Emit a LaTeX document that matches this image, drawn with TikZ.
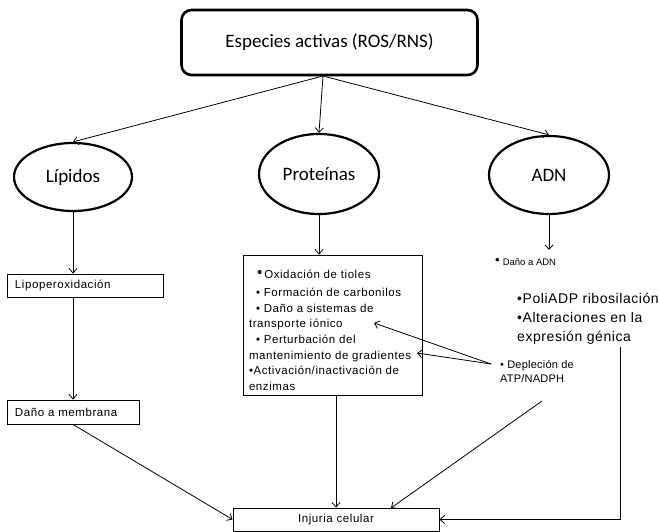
\documentclass[tikz,border=0pt]{standalone}
\usepackage{fontspec}
\setmainfont{Liberation Sans}
\newfontfamily\calib{Carlito}
\newfontfamily\arsp[LetterSpace=5]{Liberation Sans}
\newfontfamily\arspb[LetterSpace=4]{Liberation Sans}
\newfontfamily\arspc[LetterSpace=2]{Liberation Sans}
\usetikzlibrary{shapes.geometric,arrows.meta,calc}
\begin{document}
\begin{tikzpicture}[x=1pt,y=-1pt,
  arr/.style={draw, line width=0.8pt, -{Straight Barb[length=4.5pt,width=8pt]}},
  ell/.style={ellipse, draw, line width=2.2pt, inner sep=0pt, font=\calib\fontsize{19}{22}\selectfont},
  boxn/.style={draw, line width=0.9pt, inner sep=0pt, font=\arsp\fontsize{11.5}{14}\selectfont},
  free/.style={inner sep=0pt, align=left, anchor=north west}]
\useasboundingbox (0,0) rectangle (659,532);
% top
\node[draw, rounded corners=10pt, line width=2.6pt, minimum width=296pt, minimum height=65pt,
      font=\calib\fontsize{19}{22}\selectfont] (top) at (329.5,42.5) {Especies activas (ROS/RNS)};
% ellipses
\node[ell, minimum width=118pt, minimum height=68pt] (lip) at (73,177) {Lípidos};
\node[ell, minimum width=120pt, minimum height=80pt] (prot) at (319,174) {Proteínas};
\node[ell, minimum width=120pt, minimum height=78pt] (adn) at (549,175) {ADN};
% left column
\node[boxn, minimum height=23pt, inner xsep=8pt, text width=140pt, align=left] (lipo) at (85,285.5) {Lipoperoxidación};
\node[boxn, minimum height=24pt, inner xsep=8pt, text width=116pt, align=left] (dmem) at (73,412) {Daño a membrana};
% bottom
\node[boxn, minimum width=206pt, minimum height=23pt] (inj) at (336,519.5) {Injuria celular};
% protein box
\node[boxn, font=\arsp\fontsize{11.5}{15.6}\selectfont] (pbox) at (332.5,325) {\parbox[c][140pt][t]{179pt}{\raggedright\leftskip=6pt\relax
\rule{0pt}{23.5pt}\hspace*{8pt}{\fontsize{15}{15}\selectfont\raisebox{1pt}{•}}\hspace{2pt}Oxidación de tioles\\[2.5pt]
\hspace*{7pt}• Formación de carbonilos\\
\hspace*{7pt}• Daño a sistemas de\\
transporte iónico\\
\hspace*{7pt}• Perturbación del\\
mantenimiento de gradientes\\
•Activación/inactivación de\\
enzimas}};
% right texts
\node[free, anchor=west, font=\fontsize{9.5}{11}\selectfont] (dadn) at (495,262) {{\fontsize{13}{13}\selectfont\raisebox{1pt}{•}}\hspace{3pt}Daño a ADN};
\node[free, font=\arspb\fontsize{14}{19}\selectfont] (poli) at (517,292.5) {•PoliADP ribosilación\\•Alteraciones en la\\expresión génica};
\node[free, font=\arspc\fontsize{11}{14}\selectfont] (depl) at (500,360.5) {• Depleción de\\ATP/NADPH};
% coordinates
\coordinate (ts) at (323,76);
\coordinate (ad) at (549,250);
\coordinate (dp) at (491,364);
\coordinate (t1) at (374,323);
\coordinate (t2) at (417,353);
\coordinate (d3) at (542,401);
\coordinate (ie) at (391,508);
\coordinate (c1) at (620,347);
% connectors
\draw[arr] (ts) -- (lip.north);
\draw[arr] (ts) -- (prot.north);
\draw[arr] (ts) -- (adn.north);
\draw[arr] (lip.south) -- (lip.south |- lipo.north);
\draw[arr] (lipo.south -| dmem.north) -- (dmem.north);
\draw[arr] (dmem.south) -- (inj.west);
\draw[arr] (prot.south) -- (prot.south |- pbox.north);
\draw[arr] (pbox.south -| inj.north) -- (inj.north);
\draw[arr] (adn.south) -- (ad);
\draw[arr] (dp) -- (t1);
\draw[arr] (dp) -- (t2);
\draw[arr] (d3) -- (ie);
\draw[arr] (c1) |- (inj.east);
\end{tikzpicture}
\end{document}
